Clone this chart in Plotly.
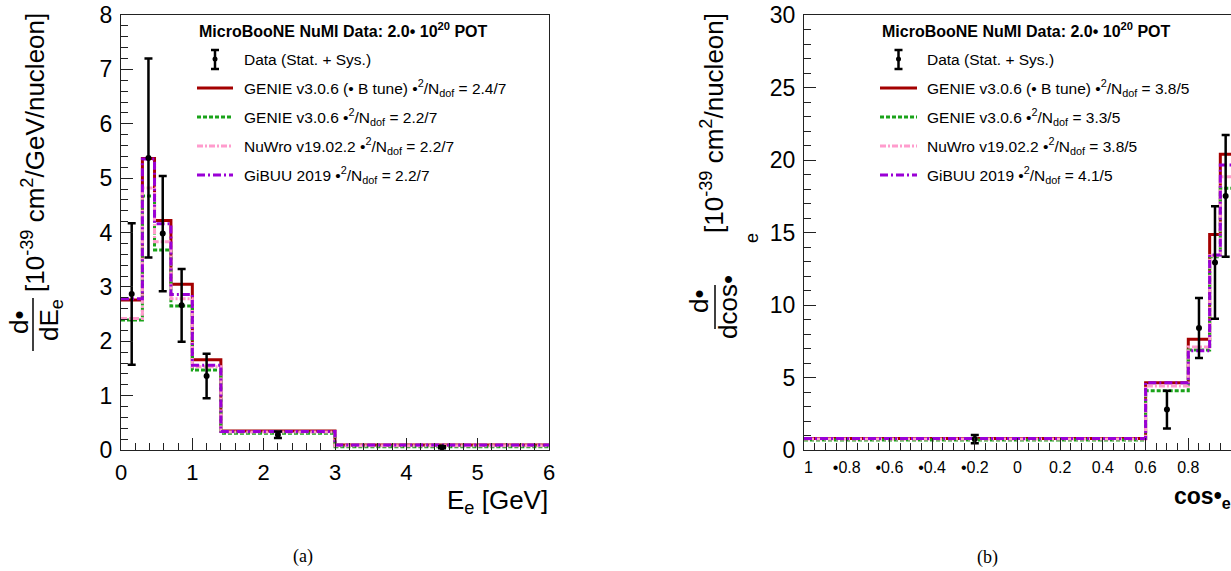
import plotly.graph_objects as go

# ---------------- data ----------------
E_EDGES = [0.0, 0.3, 0.47, 0.7, 1.0, 1.4, 3.0, 6.0]
E_DATA = [2.87, 5.37, 3.98, 2.66, 1.36, 0.28, 0.05]
E_ERR = [1.30, 1.83, 1.06, 0.67, 0.41, 0.06, 0.02]
E_GENIE_UB = [2.76, 5.36, 4.22, 3.05, 1.66, 0.35, 0.09]
E_GENIE = [2.39, 4.67, 3.68, 2.65, 1.47, 0.31, 0.06]
E_NUWRO = [2.42, 4.82, 3.83, 2.78, 1.53, 0.33, 0.08]
E_GIBUU = [2.78, 5.35, 4.16, 2.86, 1.56, 0.34, 0.09]

COS_EDGES = [-1.0, 0.6, 0.8, 0.9, 0.95, 1.0]
COS_DATA = [0.75, 2.79, 8.42, 12.93, 17.52]
COS_ERR = [0.28, 1.30, 2.07, 3.88, 4.20]
COS_GENIE_UB = [0.80, 4.64, 7.63, 14.87, 20.39]
COS_GENIE = [0.69, 4.09, 6.90, 13.33, 18.05]
COS_NUWRO = [0.75, 4.41, 7.10, 13.40, 18.85]
COS_GIBUU = [0.80, 4.64, 6.85, 13.45, 19.66]

E_CHI2 = ["2.4/7", "2.2/7", "2.2/7", "2.2/7"]
COS_CHI2 = ["3.8/5", "3.3/5", "3.8/5", "4.1/5"]
MODEL_NAMES = ["GENIE v3.0.6 (\u2022 B tune)", "GENIE v3.0.6", "NuWro v19.02.2", "GiBUU 2019"]

COS_TICKVALS = [-1, -0.8, -0.6, -0.4, -0.2, 0, 0.2, 0.4, 0.6, 0.8, 1]
COS_TICKTEXT = ["\u00a0\u00a01", "\u20220.8", "\u20220.6", "\u20220.4", "\u20220.2",
                "0", "0.2", "0.4", "0.6", "0.8", "1"]

# ---------------- styles ----------------
W, H = 1231, 571
FONT = "Liberation Sans, Arial, sans-serif"
STYLES = [
    dict(color="#a40000", dash="solid", width=3),
    dict(color="#1aa31a", dash="4px,2px", width=3),
    dict(color="#ff9ccd", dash="6px,2px,2px,2px", width=3),
    dict(color="#9a00d6", dash="8px,3px,2px,3px", width=3),
]


def px(x):
    return x / W


def py(y):
    return 1 - y / H


fig = go.Figure()


def add_panel(edges, models, data, err, xa, ya):
    for vals, st in zip(models, STYLES):
        fig.add_trace(go.Scatter(
            x=edges, y=list(vals) + [vals[-1]], mode="lines", line_shape="hv",
            line=st, xaxis=xa, yaxis=ya, showlegend=False, hoverinfo="skip"))
    centers = [(edges[i] + edges[i + 1]) / 2 for i in range(len(edges) - 1)]
    fig.add_trace(go.Scatter(
        x=centers, y=data, mode="markers", marker=dict(color="black", size=6),
        error_y=dict(type="data", array=err, color="black", thickness=2.5, width=4),
        xaxis=xa, yaxis=ya, showlegend=False))


add_panel(E_EDGES, [E_GENIE_UB, E_GENIE, E_NUWRO, E_GIBUU], E_DATA, E_ERR, "x", "y")
add_panel(COS_EDGES, [COS_GENIE_UB, COS_GENIE, COS_NUWRO, COS_GIBUU], COS_DATA, COS_ERR, "x2", "y2")

ydom = [py(450), py(15)]
axis_common = dict(showgrid=False, zeroline=False, showline=True, linecolor="#222",
                   linewidth=1.2, ticks="inside", ticklen=12, tickwidth=1.2, tickcolor="#222",
                   mirror=True, automargin=False)

fig.update_layout(
    width=W, height=H, margin=dict(l=0, r=0, t=0, b=0, autoexpand=False),
    paper_bgcolor="white", plot_bgcolor="white",
    font=dict(family=FONT, color="black"),
    showlegend=False,
    xaxis=dict(domain=[px(121), px(549)], range=[0, 6], tickmode="linear", tick0=0, dtick=1,
               tickfont=dict(size=22), ticklabelstandoff=2,
               minor=dict(ticks="inside", ticklen=7, dtick=0.2, tickcolor="#222"),
               anchor="y", **axis_common),
    yaxis=dict(domain=ydom, range=[0, 8], tickmode="linear", tick0=0, dtick=1,
               tickfont=dict(size=23), ticklabelstandoff=3,
               minor=dict(ticks="inside", ticklen=7, dtick=0.2, tickcolor="#222"),
               anchor="x", **axis_common),
    xaxis2=dict(domain=[px(804), 1.0], range=[-1, 1], tickmode="array",
                tickvals=COS_TICKVALS, ticktext=COS_TICKTEXT,
                tickfont=dict(size=16), ticklabelstandoff=3,
                minor=dict(ticks="inside", ticklen=7, tickmode="linear", tick0=-1, dtick=0.05,
                           tickcolor="#222"),
                anchor="y2", **axis_common),
    yaxis2=dict(domain=ydom, range=[0, 30], tickmode="linear", tick0=0, dtick=5,
                tickfont=dict(size=23), ticklabelstandoff=3,
                minor=dict(ticks="inside", ticklen=7, dtick=1, tickcolor="#222"),
                anchor="x2", **axis_common),
)

shapes = []
annotations = []
LEG_FS = 15.5


def legend(x0, x1, xtext, chis):
    annotations.append(dict(
        x=px(x0), y=py(30), xref="paper", yref="paper", xanchor="left", yanchor="middle",
        text="<b>MicroBooNE NuMI Data: 2.0\u2022 10<sup>20</sup> POT</b>",
        showarrow=False, font=dict(size=16)))
    xc = (x0 + x1) / 2
    # data entry: error bar symbol
    shapes.append(dict(type="line", xref="paper", yref="paper", x0=px(xc), x1=px(xc),
                       y0=py(50), y1=py(69), line=dict(color="black", width=2.5)))
    for yy in (50, 69):
        shapes.append(dict(type="line", xref="paper", yref="paper", x0=px(xc - 4), x1=px(xc + 4),
                           y0=py(yy), y1=py(yy), line=dict(color="black", width=2.5)))
    shapes.append(dict(type="circle", xref="paper", yref="paper", x0=px(xc - 2.5), x1=px(xc + 2.5),
                       y0=py(61.5), y1=py(56.5), fillcolor="black", line=dict(color="black", width=0)))
    annotations.append(dict(
        x=px(xtext), y=py(59), xref="paper", yref="paper", xanchor="left", yanchor="middle",
        text="Data (Stat. + Sys.)", showarrow=False, font=dict(size=LEG_FS)))
    ys = [88, 117, 146, 175]
    for name, chi, st, yy in zip(MODEL_NAMES, chis, STYLES, ys):
        shapes.append(dict(type="line", xref="paper", yref="paper", x0=px(x0), x1=px(x1),
                           y0=py(yy), y1=py(yy),
                           line=dict(color=st["color"], dash=st["dash"], width=3)))
        annotations.append(dict(
            x=px(xtext), y=py(yy), xref="paper", yref="paper", xanchor="left", yanchor="middle",
            text=f"{name} \u2022<sup>2</sup>/N<sub>dof</sub> = {chi}", showarrow=False,
            font=dict(size=LEG_FS)))


legend(197, 233, 242, E_CHI2)
legend(880, 917, 925, COS_CHI2)

# axis titles
annotations.append(dict(x=px(549), y=py(484), xref="paper", yref="paper", xanchor="right",
                        yanchor="top", text="E<sub>e</sub> [GeV]", showarrow=False,
                        font=dict(size=26), borderpad=0))
annotations.append(dict(x=px(1233), y=py(497), xref="paper", yref="paper", xanchor="right",
                        yanchor="middle", text="<b>cos\u2022<sub>e</sub></b>", showarrow=False,
                        font=dict(size=23)))

# y title left
YT_FS = 26
annotations += [
    dict(x=px(19), y=py(322), xref="paper", yref="paper", xanchor="center", yanchor="middle",
         text="d\u2022", textangle=-90, showarrow=False, font=dict(size=YT_FS)),
    dict(x=px(50), y=py(320), xref="paper", yref="paper", xanchor="center", yanchor="middle",
         text="dE<sub>e</sub>", textangle=-90, showarrow=False, font=dict(size=YT_FS)),
    dict(x=px(33), y=py(153), xref="paper", yref="paper", xanchor="center", yanchor="middle",
         text="[10<sup>-39</sup> cm<sup>2</sup>/GeV/nucleon]", textangle=-90, showarrow=False,
         font=dict(size=YT_FS)),
]
shapes.append(dict(type="line", xref="paper", yref="paper", x0=px(33), x1=px(33),
                   y0=py(298), y1=py(351), line=dict(color="black", width=1.5)))

# y title right
annotations += [
    dict(x=px(699), y=py(301), xref="paper", yref="paper", xanchor="center", yanchor="middle",
         text="d\u2022", textangle=-90, showarrow=False, font=dict(size=YT_FS)),
    dict(x=px(728), y=py(307), xref="paper", yref="paper", xanchor="center", yanchor="middle",
         text="dcos\u2022", textangle=-90, showarrow=False, font=dict(size=YT_FS)),
    dict(x=px(752), y=py(238), xref="paper", yref="paper", xanchor="center", yanchor="middle",
         text="e", textangle=-90, showarrow=False, font=dict(size=18)),
    dict(x=px(712), y=py(123), xref="paper", yref="paper", xanchor="center", yanchor="middle",
         text="[10<sup>-39</sup> cm<sup>2</sup>/nucleon]", textangle=-90, showarrow=False,
         font=dict(size=YT_FS)),
]
shapes.append(dict(type="line", xref="paper", yref="paper", x0=px(715), x1=px(715),
                   y0=py(285), y1=py(329), line=dict(color="black", width=1.5)))

# captions
annotations += [
    dict(x=px(303), y=py(556), xref="paper", yref="paper", xanchor="center", yanchor="middle",
         text="(a)", showarrow=False, font=dict(size=18, family="Liberation Serif, DejaVu Serif, serif")),
    dict(x=px(988), y=py(557), xref="paper", yref="paper", xanchor="center", yanchor="middle",
         text="(b)", showarrow=False, font=dict(size=18, family="Liberation Serif, DejaVu Serif, serif")),
]

fig.update_layout(shapes=shapes, annotations=annotations)
fig.write_html("out.html", config={"displayModeBar": False},
               post_script="document.body.style.margin='0';document.body.style.overflow='hidden';")
